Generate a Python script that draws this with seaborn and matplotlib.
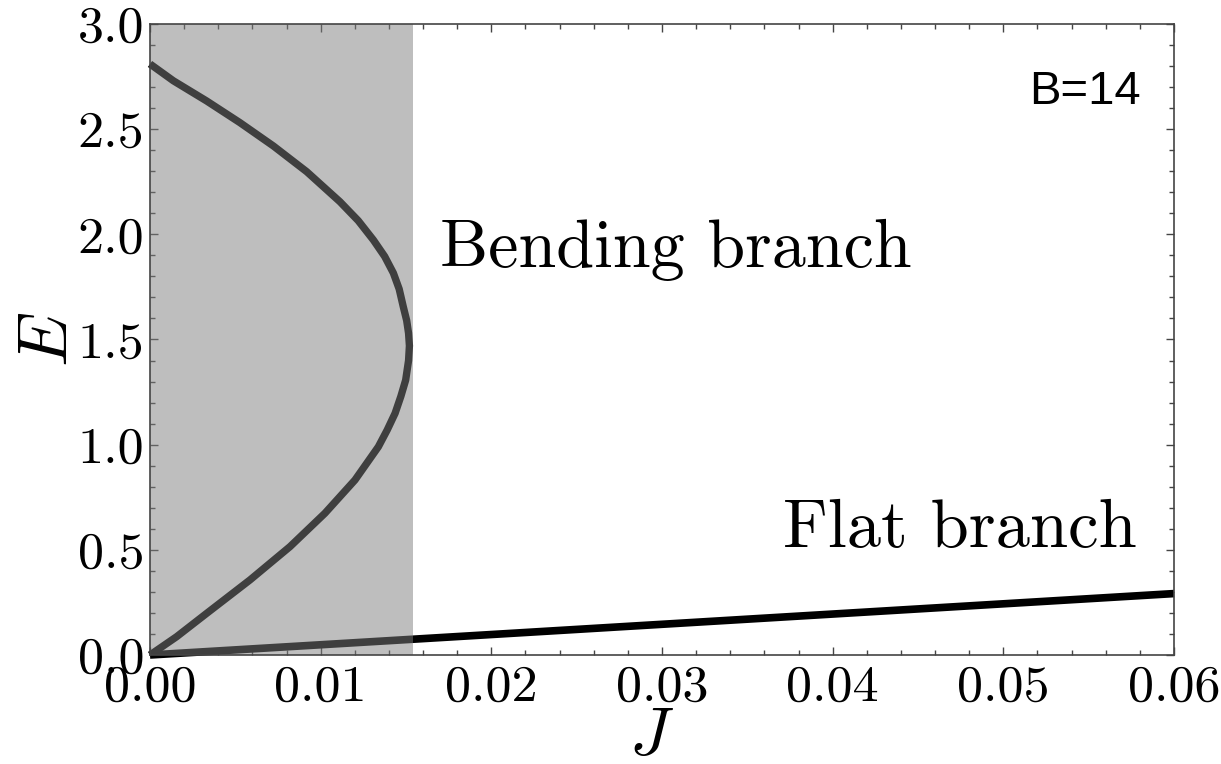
import matplotlib
matplotlib.use("Agg")
import matplotlib.pyplot as plt
from matplotlib.ticker import MultipleLocator, FormatStrFormatter
import seaborn as sns
import pandas as pd

# ---- data ----
bend_J = [0.0, 0.00137, 0.00332, 0.00527, 0.00723, 0.00918, 0.01113, 0.01220,
          0.01309, 0.01375, 0.01426, 0.01460, 0.01484, 0.01504, 0.01515,
          0.01520, 0.01515, 0.01498, 0.01470, 0.01436, 0.01390, 0.01338,
          0.01201, 0.01025, 0.00820, 0.00586, 0.00332, 0.00156, 0.0]
bend_E = [2.81, 2.730, 2.634, 2.531, 2.420, 2.298, 2.155, 2.065,
          1.973, 1.895, 1.816, 1.740, 1.656, 1.590, 1.530,
          1.470, 1.400, 1.307, 1.230, 1.149, 1.070, 0.990,
          0.832, 0.674, 0.515, 0.357, 0.198, 0.087, 0.0]
flat_J = [0.0, 0.06]
flat_E = [0.0, 0.292]
shade_J = [0.0, 0.0154]
x_ticks = [0.00, 0.01, 0.02, 0.03, 0.04, 0.05, 0.06]
y_ticks = [0.0, 0.5, 1.0, 1.5, 2.0, 2.5, 3.0]
label_bend = "Bending branch"
label_flat = "Flat branch"
label_B = "B=14"

sns.set_style("ticks")
plt.rcParams["font.family"] = ["cmr10", "DejaVu Serif"]
plt.rcParams["mathtext.fontset"] = "cm"
plt.rcParams["axes.formatter.use_mathtext"] = True
plt.rcParams["text.color"] = "black"
plt.rcParams["axes.labelcolor"] = "black"
plt.rcParams["xtick.labelcolor"] = "black"
plt.rcParams["ytick.labelcolor"] = "black"

fig = plt.figure(figsize=(12.21, 7.64), dpi=100)
ax = fig.add_axes([150 / 1221, (764 - 655) / 764, 1024 / 1221, 631 / 764])

bend = pd.DataFrame({"J": bend_J, "E": bend_E})
flat = pd.DataFrame({"J": flat_J, "E": flat_E})
sns.lineplot(data=bend, x="J", y="E", sort=False, estimator=None, ax=ax,
             color="black", lw=5.3, zorder=2, clip_on=False,
             solid_capstyle="butt", solid_joinstyle="round")
sns.lineplot(data=flat, x="J", y="E", sort=False, estimator=None, ax=ax,
             color="black", lw=5.5, zorder=2, clip_on=False,
             solid_capstyle="butt")
ax.axvspan(shade_J[0], shade_J[1], color="#7f7f7f", alpha=0.5, lw=0, zorder=3)

ax.set_xlim(x_ticks[0], x_ticks[-1])
ax.set_ylim(y_ticks[0], y_ticks[-1])
ax.set_xticks(x_ticks)
ax.set_yticks(y_ticks)
ax.xaxis.set_minor_locator(MultipleLocator(0.002))
ax.yaxis.set_minor_locator(MultipleLocator(0.1))
ax.xaxis.set_major_formatter(FormatStrFormatter("%.2f"))
ax.yaxis.set_major_formatter(FormatStrFormatter("%.1f"))
ax.tick_params(which="both", direction="in", top=True, right=True,
               color="#444444", width=1.0)
ax.tick_params(which="major", length=6, labelsize=37.5)
ax.tick_params(axis="x", which="major", pad=7)
ax.tick_params(axis="y", which="major", pad=4)
ax.tick_params(which="minor", length=3.5)
for s in ax.spines.values():
    s.set_color("#444444")
    s.set_linewidth(1.2)
    s.set_zorder(5)

ax.set_xlabel(r"$J$", fontsize=49)
ax.set_ylabel(r"$E$", fontsize=50)
ax.xaxis.set_label_coords(0.49, -0.082)
ax.yaxis.set_label_coords(-0.068, 0.5)

ax.text(0.0170, 1.846, label_bend, fontsize=49, ha="left", va="baseline")
ax.text(0.0371, 0.515, label_flat, fontsize=49.5, ha="left", va="baseline")
ax.text(0.859, 0.874, label_B, transform=ax.transAxes, fontsize=34,
        family="Liberation Sans", ha="left", va="baseline")

fig.savefig("out.png", dpi=100)
